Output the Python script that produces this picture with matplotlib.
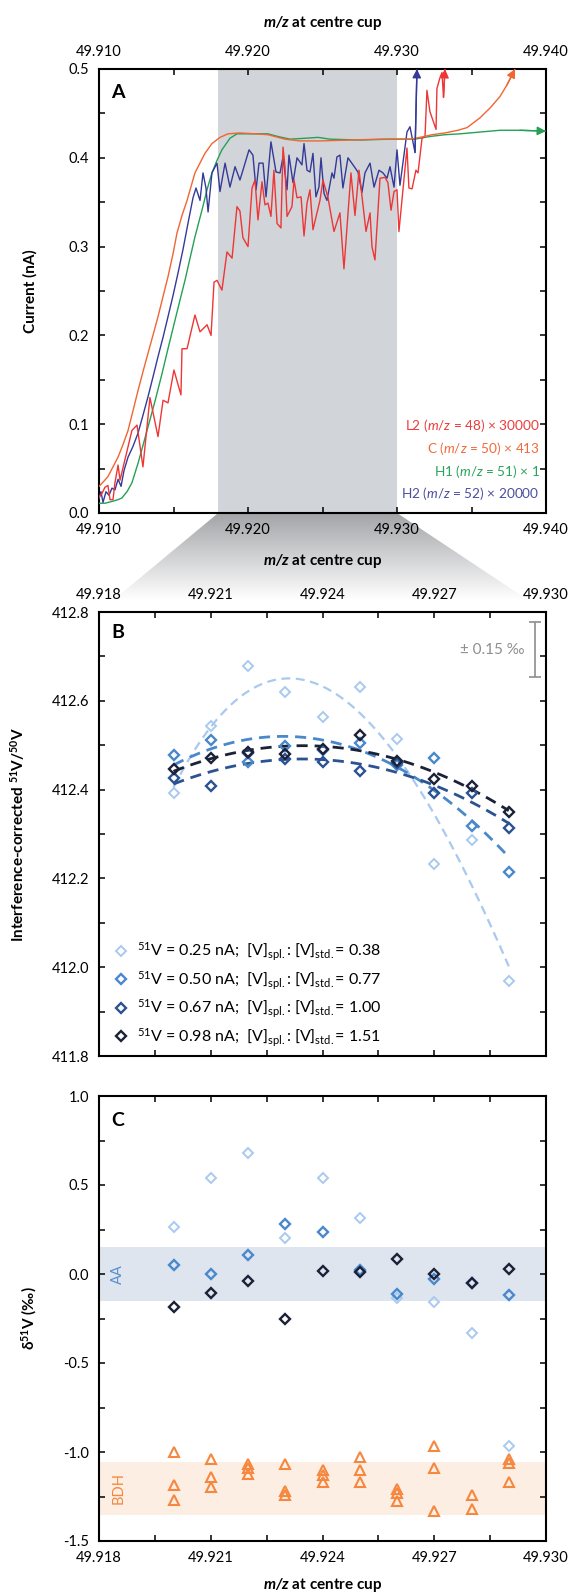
import matplotlib
matplotlib.use('Agg')
import matplotlib.pyplot as plt
import numpy as np
from matplotlib.ticker import FixedLocator, AutoMinorLocator, FormatStrFormatter
from matplotlib.colors import LinearSegmentedColormap
from matplotlib.patches import Polygon

plt.rcParams['font.family'] = ['Lato', 'DejaVu Sans']
plt.rcParams['mathtext.fontset'] = 'custom'
plt.rcParams['mathtext.rm'] = 'Lato'
plt.rcParams['mathtext.it'] = 'Lato:italic'
plt.rcParams['mathtext.bf'] = 'Lato:bold'
plt.rcParams['mathtext.bfit'] = 'Lato:bold:italic'

# ---- panel A: peak scans (m/z given as offset from 49.910 in thousandths) ----
mz0 = 49.910
l2_dmz = [0.00, 0.20, 0.40, 0.60, 0.74, 0.94, 1.07, 1.28, 1.41, 1.74,
          2.21, 2.55, 2.95, 3.42, 3.96, 4.30, 4.63, 5.03, 5.50, 5.57,
          5.91, 6.44, 6.78, 7.25, 7.52, 7.72, 7.92, 8.25, 8.59, 8.93,
          9.26, 9.46, 9.66, 10.00, 10.27, 10.47, 10.67, 10.94, 11.14, 11.34,
          11.54, 11.74, 11.95, 12.21, 12.35, 12.48, 12.62, 12.95, 13.09, 13.29,
          13.56, 13.76, 13.96, 14.16, 14.36, 14.63, 14.83, 15.03, 15.37, 15.77,
          16.17, 16.44, 16.91, 17.18, 17.45, 17.92, 18.19, 18.32, 18.52, 18.86,
          19.19, 19.39, 19.60, 19.80, 20.00, 20.13, 20.67, 20.80, 21.01, 21.27,
          21.41, 21.68, 21.88, 22.01, 22.21, 22.62, 22.68, 22.88, 23.02, 23.12,
          23.22]
l2_nA = [0.018, 0.022, 0.029, 0.031, 0.015, 0.015, 0.034, 0.054, 0.037, 0.060,
         0.093, 0.099, 0.052, 0.130, 0.086, 0.127, 0.124, 0.161, 0.133, 0.185,
         0.185, 0.223, 0.204, 0.212, 0.200, 0.260, 0.262, 0.251, 0.294, 0.287,
         0.345, 0.340, 0.310, 0.300, 0.366, 0.375, 0.330, 0.373, 0.347, 0.349,
         0.334, 0.386, 0.326, 0.321, 0.412, 0.390, 0.334, 0.345, 0.375, 0.355,
         0.356, 0.312, 0.349, 0.364, 0.319, 0.338, 0.352, 0.375, 0.355, 0.317,
         0.338, 0.275, 0.383, 0.335, 0.386, 0.317, 0.338, 0.300, 0.285, 0.377,
         0.378, 0.372, 0.341, 0.362, 0.364, 0.317, 0.411, 0.366, 0.365, 0.386,
         0.383, 0.422, 0.424, 0.476, 0.452, 0.432, 0.478, 0.490, 0.496, 0.468,
         0.500]

h2_dmz = [0.00, 0.13, 0.27, 0.47, 0.67, 0.87, 1.07, 1.28, 1.48, 1.68,
          1.95, 2.28, 2.62, 2.95, 3.29, 3.62, 3.96, 4.30, 4.63, 4.97,
          5.30, 5.64, 5.97, 6.31, 6.51, 6.78, 6.98, 7.18, 7.32, 7.58,
          7.92, 8.12, 8.46, 8.79, 9.13, 9.46, 9.66, 10.07, 10.33, 10.54,
          10.74, 11.01, 11.21, 11.54, 11.88, 12.15, 12.35, 12.62, 12.75, 13.02,
          13.29, 13.62, 13.76, 13.96, 14.16, 14.36, 14.56, 14.76, 14.90, 15.10,
          15.30, 15.64, 15.77, 15.97, 16.17, 16.37, 16.71, 17.05, 17.38, 17.65,
          17.85, 18.19, 18.46, 18.79, 19.06, 19.33, 19.53, 19.80, 20.00, 20.20,
          20.67, 20.87, 21.21, 21.34]
h2_nA = [0.016, 0.024, 0.012, 0.024, 0.020, 0.028, 0.026, 0.038, 0.030, 0.048,
         0.063, 0.075, 0.090, 0.110, 0.131, 0.153, 0.176, 0.198, 0.221, 0.245,
         0.270, 0.297, 0.326, 0.355, 0.366, 0.352, 0.383, 0.366, 0.339, 0.383,
         0.394, 0.362, 0.394, 0.367, 0.390, 0.375, 0.386, 0.409, 0.403, 0.364,
         0.394, 0.394, 0.356, 0.418, 0.384, 0.383, 0.401, 0.364, 0.403, 0.372,
         0.400, 0.392, 0.416, 0.386, 0.384, 0.405, 0.356, 0.367, 0.400, 0.360,
         0.352, 0.383, 0.377, 0.401, 0.403, 0.366, 0.400, 0.392, 0.384, 0.361,
         0.383, 0.394, 0.367, 0.386, 0.383, 0.377, 0.390, 0.367, 0.409, 0.369,
         0.429, 0.435, 0.406, 0.500]

c_dmz = [0.00, 0.34, 0.60, 0.94, 1.28, 1.61, 1.95, 2.28, 2.62, 2.95,
         3.29, 3.62, 3.96, 4.30, 4.63, 4.97, 5.23, 5.57, 5.91, 6.44,
         7.11, 7.58, 8.12, 8.66, 9.46, 10.47, 11.34, 12.48, 13.49, 14.83,
         16.84, 18.86, 20.87, 21.54, 22.35, 23.22, 24.09, 24.70, 25.57, 26.24,
         26.91, 27.38, 27.92]
c_nA = [0.030, 0.036, 0.041, 0.052, 0.063, 0.077, 0.093, 0.115, 0.138, 0.159,
        0.180, 0.200, 0.221, 0.244, 0.266, 0.292, 0.315, 0.335, 0.352, 0.383,
        0.405, 0.416, 0.423, 0.427, 0.428, 0.427, 0.426, 0.421, 0.419, 0.419,
        0.420, 0.421, 0.421, 0.423, 0.426, 0.428, 0.431, 0.434, 0.445, 0.456,
        0.469, 0.482, 0.500]

h1_dmz = [0.00, 0.40, 0.87, 1.28, 1.54, 1.88, 2.21, 2.62, 2.95, 3.29,
          3.76, 4.23, 4.63, 5.10, 5.44, 5.77, 6.11, 6.44, 6.91, 7.25,
          7.58, 7.92, 8.25, 8.79, 9.26, 10.47, 11.34, 12.01, 12.82, 13.82,
          14.70, 15.50, 17.52, 19.53, 21.21, 22.21, 23.22, 24.23, 25.57, 26.91,
          28.25, 30.00]
h1_nA = [0.011, 0.011, 0.013, 0.015, 0.017, 0.024, 0.034, 0.056, 0.076, 0.097,
         0.126, 0.157, 0.185, 0.217, 0.240, 0.262, 0.287, 0.311, 0.341, 0.364,
         0.383, 0.397, 0.409, 0.422, 0.427, 0.427, 0.427, 0.424, 0.421, 0.422,
         0.423, 0.421, 0.420, 0.421, 0.421, 0.424, 0.426, 0.427, 0.429, 0.431,
         0.431, 0.430]

a_labels = [r"L2 ($m/z$ = 48) × 30000", r"C ($m/z$ = 50) × 413",
            r"H1 ($m/z$ = 51) × 1", r"H2 ($m/z$ = 52) × 20000"]
a_colors = ['#ee3636', '#f26532', '#25a055', '#353a98']
a_text_colors = ['#ee3b3b', '#f26a3a', '#2aa35a', '#4a4ea2']
a_xticks = [49.910, 49.920, 49.930, 49.940]
a_yticks = [0.0, 0.1, 0.2, 0.3, 0.4, 0.5]
shade_lo, shade_hi = 49.918, 49.930

# ---- panel B: interference-corrected 51V/50V ----
b_mz = [49.920, 49.921, 49.922, 49.923, 49.924, 49.925, 49.926, 49.927, 49.928, 49.929]
b_025 = [412.392, 412.543, 412.678, 412.620, 412.564, 412.630, 412.515, 412.232, 412.286, 411.969]
b_050 = [412.478, 412.512, 412.463, 412.499, 412.490, 412.506, 412.455, 412.471, 412.319, 412.215]
b_067 = [412.427, 412.407, 412.482, 412.469, 412.463, 412.443, 412.460, 412.392, 412.393, 412.313]
b_098 = [412.446, 412.472, 412.484, 412.480, 412.491, 412.523, 412.464, 412.425, 412.409, 412.349]
b_labels = [r"$^{51}$V = 0.25 nA;  [V]$_{\mathrm{spl.}}$: [V]$_{\mathrm{std.}}$= 0.38",
            r"$^{51}$V = 0.50 nA;  [V]$_{\mathrm{spl.}}$: [V]$_{\mathrm{std.}}$= 0.77",
            r"$^{51}$V = 0.67 nA;  [V]$_{\mathrm{spl.}}$: [V]$_{\mathrm{std.}}$= 1.00",
            r"$^{51}$V = 0.98 nA;  [V]$_{\mathrm{spl.}}$: [V]$_{\mathrm{std.}}$= 1.51"]
b_colors = ['#a9c9ef', '#4a88cc', '#2b5291', '#1b2238']
b_fit_deg = [3, 2, 2, 2]
b_xticks = [49.918, 49.921, 49.924, 49.927, 49.930]
b_yticks = [411.8, 412.0, 412.2, 412.4, 412.6, 412.8]
err_permil = 0.15
err_center = 412.716
err_mz = 49.92971

# ---- panel C: d51V ----
c_mz = b_mz
d_025 = [0.266, 0.540, 0.681, 0.204, 0.540, 0.313, -0.135, -0.158, -0.329, -0.964]
d_050 = [0.051, 0.002, 0.109, 0.279, 0.236, 0.024, -0.113, -0.028, -0.050, -0.120]
d_098 = [-0.186, -0.107, -0.038, -0.253, 0.019, 0.011, 0.084, 0.002, -0.053, 0.028]
bdh_mz = [49.920, 49.920, 49.920, 49.921, 49.921, 49.921, 49.922, 49.922, 49.922,
          49.923, 49.923, 49.923, 49.924, 49.924, 49.924, 49.925, 49.925, 49.925,
          49.926, 49.926, 49.926, 49.927, 49.927, 49.927, 49.928, 49.928,
          49.929, 49.929, 49.929]
bdh_d = [-1.002, -1.186, -1.270, -1.039, -1.143, -1.199, -1.069, -1.092, -1.125,
         -1.068, -1.218, -1.242, -1.101, -1.129, -1.167, -1.030, -1.101, -1.167,
         -1.208, -1.229, -1.276, -0.966, -1.092, -1.330, -1.242, -1.321,
         -1.039, -1.064, -1.167]
aa_mean, bdh_mean, band_half = 0.0, -1.205, 0.15
c_yticks = [-1.5, -1.0, -0.5, 0.0, 0.5, 1.0]
orange = '#f5873f'

xlab = r"$\mathbfit{m/z}$ at centre cup"
FS = 10.5

fig = plt.figure(figsize=(5.74, 15.93), dpi=100)
axA = fig.add_axes([99/574, 1-513/1593, 447/574, 444/1593])
axB = fig.add_axes([99/574, 1-1056/1593, 447/574, 444/1593])
axC = fig.add_axes([99/574, 1-1541/1593, 447/574, 445/1593])


def style(ax):
    for s in ax.spines.values():
        s.set_linewidth(1.5)
    ax.tick_params(which='both', direction='in', top=True, right=True,
                   length=4.5, width=1.1, labelsize=FS, pad=7)


# ---------------- A ----------------
axA.axvspan(shade_lo, shade_hi, color='#d1d4d8', lw=0, zorder=0)
series = [(h1_dmz, h1_nA, a_colors[2]), (h2_dmz, h2_nA, a_colors[3]),
          (l2_dmz, l2_nA, a_colors[0]), (c_dmz, c_nA, a_colors[1])]
for dmz, vals, col in series:
    x = mz0 + np.array(dmz) / 1000
    axA.plot(x, vals, color=col, lw=1.0, zorder=3)
    axA.annotate('', xy=(x[-1], vals[-1]), xytext=(x[-2], vals[-2]),
                 arrowprops=dict(arrowstyle='-|>', color=col, lw=1.0,
                                 mutation_scale=13, shrinkA=0, shrinkB=0),
                 annotation_clip=False, zorder=4)
axA.set_xlim(49.910, 49.940)
axA.set_ylim(0, 0.5)
style(axA)
axA.xaxis.set_major_locator(FixedLocator(a_xticks))
axA.yaxis.set_major_locator(FixedLocator(a_yticks))
axA.xaxis.set_minor_locator(AutoMinorLocator(2))
axA.yaxis.set_minor_locator(AutoMinorLocator(2))
axA.xaxis.set_major_formatter(FormatStrFormatter('%.3f'))
axA.yaxis.set_major_formatter(FormatStrFormatter('%.1f'))
axA.tick_params(labeltop=True)
axA.set_xlabel(xlab, fontsize=11, fontweight='bold')
axA.xaxis.set_label_coords(0.5, -0.088)
axA.text(0.5, 1.104, xlab, transform=axA.transAxes, ha='center', va='center',
         fontsize=11, fontweight='bold')
axA.set_ylabel('Current (nA)', fontsize=11, fontweight='bold')
axA.yaxis.set_label_coords(-0.138, 0.5)
axA.text(0.027, 0.946, 'A', transform=axA.transAxes, fontsize=14,
         fontweight='bold', va='center')
for i, (lab, col) in enumerate(zip(a_labels, a_text_colors)):
    axA.text(0.986, 0.196 - i * 0.051, lab, color=col, transform=axA.transAxes,
             ha='right', va='center', fontsize=9.8)

# ---------------- B ----------------
xf = np.linspace(b_mz[0], b_mz[-1], 120)
bser = [b_025, b_050, b_067, b_098]
for vals, col, lw, deg in zip(bser, b_colors, [1.6, 2.0, 2.0, 2.0], b_fit_deg):
    coef = np.polyfit(np.array(b_mz) - 49.924, vals, deg)
    axB.plot(xf, np.polyval(coef, xf - 49.924), color=col, lw=lw,
             dashes=(4, 2.5), zorder=2)
handles = []
for vals, col, mew in zip(bser, b_colors, [1.4, 1.7, 1.7, 1.7]):
    h, = axB.plot(b_mz, vals, 'D', mfc='none', mec=col, ms=4.8, mew=mew, zorder=3)
    handles.append(h)
axB.errorbar(err_mz, err_center, yerr=err_permil / 1000 * err_center,
             color='#8e8e8e', capsize=4, lw=1.2, capthick=1.2)
axB.text(0.953, 0.914, '± 0.15 ‰', transform=axB.transAxes, ha='right',
         va='center', color='#8e8e8e', fontsize=11)
axB.set_xlim(49.918, 49.930)
axB.set_ylim(411.8, 412.8)
style(axB)
axB.xaxis.set_major_locator(FixedLocator(b_xticks))
axB.yaxis.set_major_locator(FixedLocator(b_yticks))
axB.xaxis.set_minor_locator(AutoMinorLocator(2))
axB.yaxis.set_minor_locator(AutoMinorLocator(2))
axB.xaxis.set_major_formatter(FormatStrFormatter('%.3f'))
axB.yaxis.set_major_formatter(FormatStrFormatter('%.1f'))
axB.tick_params(labeltop=True, labelbottom=False)
axB.set_ylabel(r"Interference-corrected $^{\mathbf{51}}$V/$^{\mathbf{50}}$V",
               fontsize=11, fontweight='bold')
axB.yaxis.set_label_coords(-0.162, 0.5)
axB.text(0.027, 0.953, 'B', transform=axB.transAxes, fontsize=14,
         fontweight='bold', va='center')
axB.legend(handles, b_labels, loc='lower left', frameon=False, fontsize=11.5,
           handletextpad=0.45, labelspacing=0.4, handlelength=1.0,
           borderaxespad=0.5, bbox_to_anchor=(0.0, -0.016))

# ---------------- C ----------------
axC.axhspan(aa_mean - band_half, aa_mean + band_half, color='#dfe5ee', lw=0, zorder=0)
axC.axhspan(bdh_mean - band_half, bdh_mean + band_half, color='#fdeee4', lw=0, zorder=0)
axC.text(0.043, aa_mean, 'AA', transform=axC.get_yaxis_transform(), rotation=90,
         ha='center', va='center', color='#5a8fd0', fontsize=FS)
axC.text(0.043, bdh_mean, 'BDH', transform=axC.get_yaxis_transform(), rotation=90,
         ha='center', va='center', color=orange, fontsize=FS)
for vals, col, mew in zip([d_025, d_050, d_098],
                          [b_colors[0], b_colors[1], b_colors[3]], [1.4, 1.7, 1.7]):
    axC.plot(c_mz, vals, 'D', mfc='none', mec=col, ms=4.8, mew=mew, zorder=3)
axC.plot(bdh_mz, bdh_d, '^', mfc='none', mec=orange, ms=7, mew=1.5, zorder=3)
axC.set_xlim(49.918, 49.930)
axC.set_ylim(-1.5, 1.0)
style(axC)
axC.xaxis.set_major_locator(FixedLocator(b_xticks))
axC.yaxis.set_major_locator(FixedLocator(c_yticks))
axC.xaxis.set_minor_locator(AutoMinorLocator(2))
axC.yaxis.set_minor_locator(AutoMinorLocator(2))
axC.xaxis.set_major_formatter(FormatStrFormatter('%.3f'))
axC.yaxis.set_major_formatter(FormatStrFormatter('%.1f'))
axC.set_xlabel(xlab, fontsize=11, fontweight='bold')
axC.xaxis.set_label_coords(0.5, -0.079)
axC.set_ylabel(r"δ$^{\mathbf{51}}$V (‰)", fontsize=11, fontweight='bold')
axC.yaxis.set_label_coords(-0.135, 0.5)
axC.text(0.027, 0.946, 'C', transform=axC.transAxes, fontsize=14,
         fontweight='bold', va='center')

# ---- zoom connector between A and B ----
to_fig = fig.transFigure.inverted()
p_l = to_fig.transform(axA.transData.transform((shade_lo, 0)))
p_r = to_fig.transform(axA.transData.transform((shade_hi, 0)))
q_l = to_fig.transform(axB.transAxes.transform((0, 1)))
q_r = to_fig.transform(axB.transAxes.transform((1, 1)))
gax = fig.add_axes([0, 0, 1, 1], zorder=-1)
gax.axis('off')
poly = Polygon([p_l, p_r, q_r, q_l], closed=True, fc='none', ec='none')
gax.add_patch(poly)
fade = LinearSegmentedColormap.from_list('fade', [(0, 'white'), (0.12, 'white'), (1, '#a2a3a7')])
grad = np.linspace(1, 0, 256).reshape(-1, 1)
im = gax.imshow(grad, cmap=fade, vmin=0, vmax=1, aspect='auto', origin='upper',
                extent=[q_l[0], q_r[0], q_l[1], p_l[1]])
im.set_clip_path(poly)
gax.set_xlim(0, 1)
gax.set_ylim(0, 1)

fig.savefig('out.png', dpi=100)
